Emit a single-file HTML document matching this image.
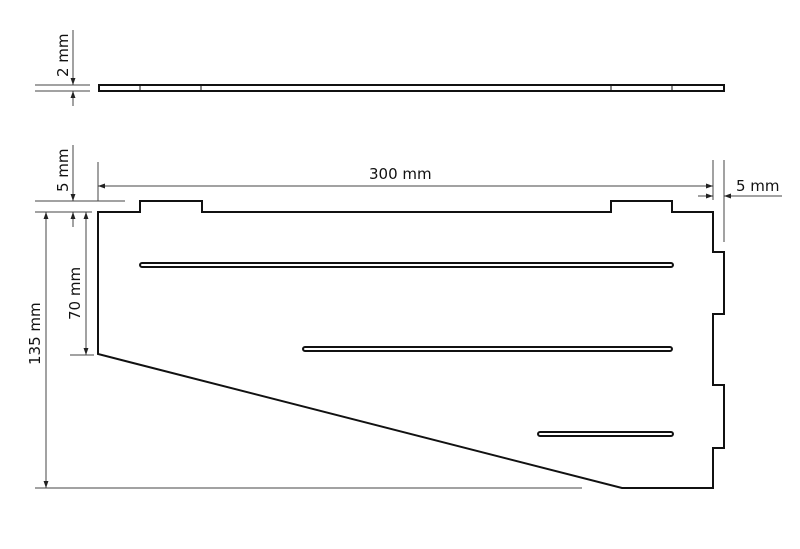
<!DOCTYPE html>
<html><head><style>body{margin:0;background:#fff}</style></head><body>
<svg width="800" height="544" viewBox="0 0 800 544" xmlns="http://www.w3.org/2000/svg" font-family="'DejaVu Sans','Liberation Sans',sans-serif">
<defs><marker id="a" viewBox="0 0 10 10" refX="10" refY="5" markerWidth="7" markerHeight="7" orient="auto-start-reverse"><path d="M0,1.5 L10,5 L0,8.5z" fill="#222"/></marker></defs>
<g stroke="#444" stroke-width="1" fill="none">
<line x1="35" y1="85" x2="90" y2="85"/><line x1="35" y1="91" x2="90" y2="91"/>
<line x1="73" y1="30" x2="73" y2="85" marker-end="url(#a)"/>
<line x1="73" y1="106" x2="73" y2="91" marker-end="url(#a)"/>
<line x1="35" y1="201" x2="125" y2="201"/><line x1="35" y1="212" x2="92" y2="212"/>
<line x1="73" y1="145" x2="73" y2="201" marker-end="url(#a)"/>
<line x1="73" y1="227" x2="73" y2="212" marker-end="url(#a)"/>
<line x1="98" y1="162" x2="98" y2="201"/>
<line x1="98" y1="186" x2="713" y2="186" marker-start="url(#a)" marker-end="url(#a)"/>
<line x1="713" y1="160" x2="713" y2="200"/><line x1="724" y1="160" x2="724" y2="242"/>
<line x1="698" y1="196" x2="713" y2="196" marker-end="url(#a)"/>
<line x1="782" y1="196" x2="724" y2="196" marker-end="url(#a)"/>
<line x1="86" y1="212" x2="86" y2="355" marker-start="url(#a)" marker-end="url(#a)"/>
<line x1="70" y1="355" x2="94" y2="355"/>
<line x1="46" y1="212" x2="46" y2="488" marker-start="url(#a)" marker-end="url(#a)"/>
<line x1="35" y1="488" x2="582" y2="488"/>
</g>
<g stroke="#111" stroke-width="2" fill="none" stroke-linejoin="miter">
<rect x="99" y="85" width="625" height="6"/>
<line x1="140" y1="85" x2="140" y2="91" stroke-width="1"/><line x1="201" y1="85" x2="201" y2="91" stroke-width="1"/>
<line x1="611" y1="85" x2="611" y2="91" stroke-width="1"/><line x1="672" y1="85" x2="672" y2="91" stroke-width="1"/>
<path d="M98,212 L140,212 L140,201 L202,201 L202,212 L611,212 L611,201 L672,201 L672,212 L713,212 L713,252 L724,252 L724,314 L713,314 L713,385 L724,385 L724,448 L713,448 L713,488 L622,488 L98,354 Z"/>
<rect x="140" y="263" width="533" height="4" rx="2" stroke-width="2"/>
<rect x="303" y="347" width="369" height="4" rx="2" stroke-width="2"/>
<rect x="538" y="432" width="135" height="4" rx="2" stroke-width="2"/>
</g>
<g font-size="15" fill="#111">
<text x="369" y="179">300 mm</text>
<text x="736" y="191">5 mm</text>
<text transform="translate(68,77) rotate(-90)">2 mm</text>
<text transform="translate(68,192) rotate(-90)">5 mm</text>
<text transform="translate(80,320) rotate(-90)">70 mm</text>
<text transform="translate(40,365) rotate(-90)">135 mm</text>
</g>
</svg>
</body></html>
